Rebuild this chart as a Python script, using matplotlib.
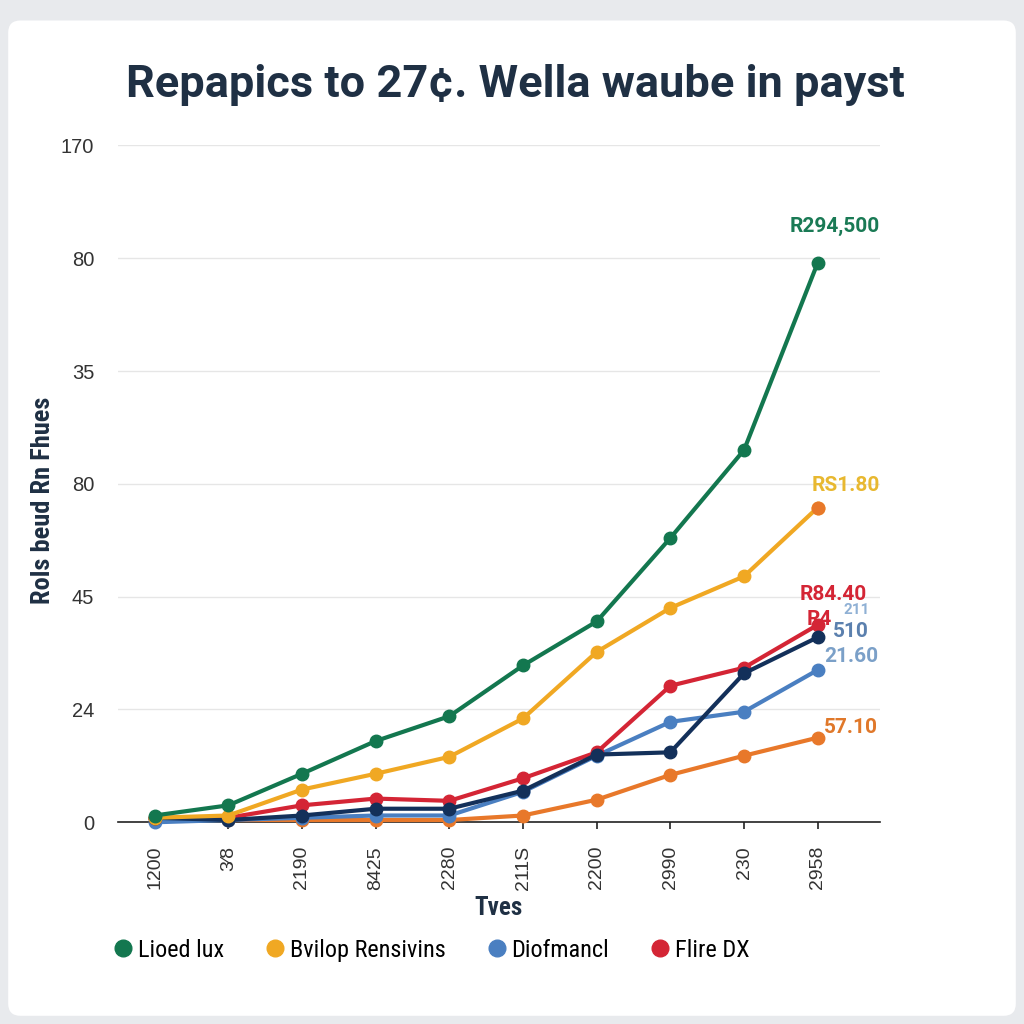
import matplotlib
matplotlib.use("Agg")
import matplotlib.pyplot as plt
from matplotlib.patches import FancyBboxPatch
from matplotlib.lines import Line2D

# ---- data (plot units: gridline index 0..6) ----
x_labels = ["1200", "3\u20448", "2190", "8425", "2280", "211S", "2200", "2990", "230", "2958"]
y_tick_labels = ["0", "24", "45", "80", "35", "80", "170"]

lioed_lux = [0.06, 0.15, 0.43, 0.72, 0.94, 1.39, 1.78, 2.52, 3.30, 4.96]
bvilop = [0.04, 0.06, 0.29, 0.43, 0.58, 0.92, 1.51, 1.90, 2.18, 2.79]
flire_dx = [0.04, 0.04, 0.15, 0.21, 0.19, 0.39, 0.62, 1.21, 1.37, 1.75]
navy_series = [0.04, 0.02, 0.06, 0.12, 0.12, 0.28, 0.60, 0.62, 1.32, 1.64]
diofmancl = [0.00, 0.02, 0.04, 0.06, 0.06, 0.27, 0.59, 0.89, 0.98, 1.35]
orange_series = [0.04, 0.02, 0.02, 0.02, 0.02, 0.06, 0.20, 0.42, 0.59, 0.75]

end_labels = [
    ("R294,500", "#1A7A55"),
    ("RS1.80", "#E8B830"),
    ("R84.40", "#D42535"),
    ("510", "#5B80AE"),
    ("21.60", "#7BA0C8"),
    ("57.10", "#E0782A"),
    ("R4", "#D42535"),
    ("211", "#8FB0D4"),
]

plt.rcParams['font.family'] = ['Roboto', 'DejaVu Sans']

fig = plt.figure(figsize=(10.24, 10.24), dpi=100)
fig.patch.set_facecolor("#E8EAED")
card = FancyBboxPatch((0.008, 0.008), 0.984, 0.972, boxstyle="round,pad=0,rounding_size=0.012",
                      transform=fig.transFigure, facecolor="white", edgecolor="none", zorder=-10)
fig.patches.append(card)

ax = fig.add_axes([0.115, 0.197, 0.744, 0.661])
ax.set_zorder(1)
ax.set_facecolor("none")
xs = list(range(len(x_labels)))

GREEN = "#13774F"
YELLOW = "#F0A823"
RED = "#D42535"
NAVY = "#13305A"
BLUE = "#4A7FC1"
ORANGE = "#E8782A"

kw = dict(lw=3.0, marker="o", ms=9, clip_on=False)
ax.plot(xs, orange_series, color=ORANGE, zorder=3, **kw)
ax.plot(xs, diofmancl, color=BLUE, zorder=4, **kw)
ax.plot(xs, navy_series, color=NAVY, zorder=5, **kw)
ax.plot(xs, flire_dx, color=RED, zorder=4.5, **kw)
ax.plot(xs, bvilop, color=YELLOW, zorder=6, **kw)
ax.plot(xs, lioed_lux, color=GREEN, zorder=7, **kw)
ax.plot([xs[-1]], [bvilop[-1]], "o", color=ORANGE, ms=9, zorder=8, clip_on=False)

ax.set_xlim(-0.5, 9.84)
ax.set_ylim(0, 6)
ax.set_yticks(range(7))
ax.set_yticklabels(y_tick_labels, fontsize=14.5, color="#333333", family=["Liberation Sans", "DejaVu Sans"])
ax.set_xticks(xs)
ax.set_xticklabels(x_labels, rotation=90, fontsize=14, color="#333333", family=["Liberation Sans", "DejaVu Sans"])
ax.tick_params(axis="y", length=0, pad=17)
ax.tick_params(axis="x", length=5, width=1.2, color="#222222", pad=12)
ax.grid(axis="y", color="#E6E6E6", lw=1)
for s in ["top", "right", "left"]:
    ax.spines[s].set_visible(False)
ax.spines["bottom"].set_color("#222222")
ax.spines["bottom"].set_linewidth(1.2)
ax.set_axisbelow(True)

ax.set_xlabel("Tves", fontsize=18, fontweight="bold", color="#1F3044", labelpad=4,
              family=["Roboto Condensed", "Roboto", "DejaVu Sans"])
ax.set_ylabel("Rols beud Rn Fhues", fontsize=19, fontweight="bold", color="#1F3044",
              family=["Roboto Condensed", "Roboto", "DejaVu Sans"])
ax.yaxis.set_label_coords(-0.083, 0.475)

# end labels
lab_kw = dict(textcoords="offset points", ha="center", fontsize=15, fontweight="bold", zorder=10)
ax.annotate(end_labels[0][0], (xs[-1], lioed_lux[-1]), xytext=(12, 22), color=end_labels[0][1], **lab_kw)
ax.annotate(end_labels[1][0], (xs[-1], bvilop[-1]), xytext=(20, 12), color=end_labels[1][1], **lab_kw)
ax.annotate(end_labels[2][0], (xs[-1], flire_dx[-1]), xytext=(11, 18), color=end_labels[2][1], **lab_kw)
ax.annotate(end_labels[3][0], (xs[-1], navy_series[-1]), xytext=(24, 0), color=end_labels[3][1], **lab_kw)
ax.annotate(end_labels[4][0], (xs[-1], diofmancl[-1]), xytext=(24, 6), color=end_labels[4][1], **lab_kw)
ax.annotate(end_labels[5][0], (xs[-1], orange_series[-1]), xytext=(24, 3), color=end_labels[5][1], **lab_kw)
ax.annotate(end_labels[6][0], (xs[-1], flire_dx[-1]), xytext=(1, 0), color=end_labels[6][1], **lab_kw)
ax.annotate(end_labels[7][0], (xs[-1], flire_dx[-1]), xytext=(28, 8), color=end_labels[7][1],
            textcoords="offset points", ha="center", fontsize=11, fontweight="bold", zorder=9)

fig.text(0.503, 0.917, "Repapics to 27\u00a2. Wella waube in payst", ha="center", va="center",
         fontsize=32.5, fontweight="bold", color="#1F3044")

order = ["Lioed lux", "Bvilop Rensivins", "Diofmancl", "Flire DX"]
cols = [GREEN, YELLOW, BLUE, RED]
hs = [Line2D([], [], marker="o", ls="none", ms=12, color=c) for c in cols]
fig.legend(hs, order, loc="center", bbox_to_anchor=(0.419, 0.072), ncol=4, frameon=False,
           handletextpad=0.0, columnspacing=1.5, handlelength=1.2,
           prop={"family": ["Roboto Condensed", "Roboto", "DejaVu Sans"], "size": 17.5})

fig.savefig("out.png", dpi=100, facecolor=fig.get_facecolor())
